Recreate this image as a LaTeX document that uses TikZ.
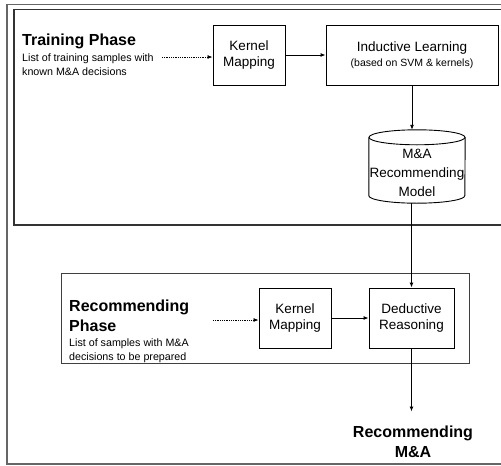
\documentclass[tikz,border=0pt]{standalone}
\usepackage{fontspec}
\setmainfont{Liberation Sans}
\usetikzlibrary{arrows.meta}
\begin{document}
\begin{tikzpicture}[x=1pt,y=-1pt,
  pbox/.style={draw=black, line width=0.9pt, inner sep=0pt, align=center,
    font=\fontsize{13.5}{15.5}\selectfont},
  arr/.style={line width=0.9pt, -{Latex[length=5pt,width=4pt]}},
  dotarr/.style={line width=0.8pt, dash pattern=on 0.9pt off 0.9pt, -{Latex[length=5pt,width=4pt]}},
  title/.style={anchor=base west, inner sep=0pt, font=\fontsize{16}{20}\bfseries\selectfont},
  small/.style={anchor=base west, inner sep=0pt, font=\fontsize{10.7}{14}\selectfont},
  frameA/.style={draw=black!60, line width=1.6pt},
  frameB/.style={draw=black!80, line width=1.3pt},
  frameC/.style={draw=black!75, line width=1pt}]
\useasboundingbox (0,0) rectangle (501,466);
\clip (0,0) rectangle (501,466);
% frames
\draw[frameA] (7,4.5) rectangle (530,464);
\draw[frameB] (14,9.8) rectangle (530,225);
\draw[frameC] (61,273) rectangle (469,363);
% training phase
\node[title] (tp) at (22,45) {Training Phase};
\node[small] (tl1) at (22,61) {List of training samples with};
\node[small] (tl2) at (22,75) {known M\&A decisions};
\node[pbox, minimum width=72pt, minimum height=60pt] (km1) at (249,55) {Kernel\\Mapping};
\node[pbox, minimum width=172pt, minimum height=60pt] (il) at (412,55)
  {Inductive Learning\\[-1pt]{\fontsize{10.5}{12}\selectfont (based on SVM \& kernels)}};
% model cylinder
\node[inner sep=0pt, minimum width=96pt, minimum height=73pt] (mdl) at (417,166.5) {};
\draw[line width=0.9pt, fill=white] ([yshift=-7.5pt]mdl.north west) -- ([yshift=7.5pt]mdl.south west)
  arc[start angle=180, end angle=360, x radius=48pt, y radius=7.5pt]
  -- ([yshift=-7.5pt]mdl.north east);
\draw[line width=0.9pt] ([yshift=-7.5pt]mdl.north) ellipse[x radius=48pt, y radius=7.5pt];
\node[inner sep=0pt, align=center, font=\fontsize{13.5}{19}\selectfont] (mdlt) at (417,173.2)
  {M\&A\\Recommending\\Model};
% recommending phase
\node[title] (rp1) at (69,311) {Recommending};
\node[title] (rp2) at (69,331) {Phase};
\node[small] (rl1) at (69,346) {List of samples with M\&A};
\node[small] (rl2) at (69,360) {decisions to be prepared};
\node[pbox, minimum width=72pt, minimum height=60pt] (km2) at (295,318) {Kernel\\Mapping};
\node[pbox, minimum width=85pt, minimum height=60pt] (dr) at (411.5,318) {Deductive\\Reasoning};
\node[anchor=north, inner sep=0pt, align=center, font=\fontsize{16}{20}\bfseries\selectfont] (out)
  at (413,425.5) {Recommending\\M\&A};
% connectors
\coordinate (s1) at (162,57);
\coordinate (s2) at (213,320);
\draw[dotarr] (s1) -- (s1 -| km1.west);
\draw[arr] (km1.east) -- (il.west |- km1.east);
\draw[arr] (il.south) -- (il.south |- mdl.north);
\draw[arr] (dr.north |- mdl.south) -- (dr.north);
\draw[dotarr] (s2) -- (s2 -| km2.west);
\draw[arr] (km2.east) -- (dr.west);
\draw[arr, shorten >=14pt] (dr.south) -- (dr.south |- out.north);
\end{tikzpicture}
\end{document}
